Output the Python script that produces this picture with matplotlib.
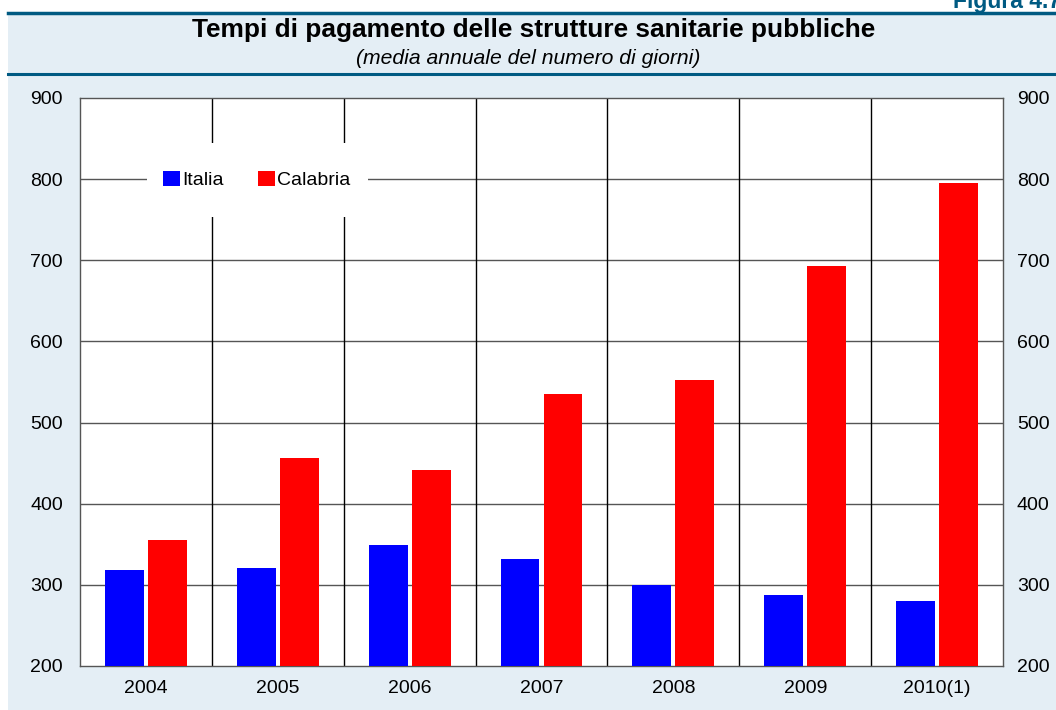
import matplotlib
matplotlib.use("Agg")
import matplotlib.pyplot as plt
from matplotlib.patches import Rectangle
from matplotlib.lines import Line2D
import numpy as np

years = ["2004", "2005", "2006", "2007", "2008", "2009", "2010(1)"]
italia = [318, 321, 349, 332, 300, 287, 280]
calabria = [355, 456, 441, 535, 552, 693, 795]
yticks = [200, 300, 400, 500, 600, 700, 800, 900]

W, H = 1056, 710
plt.rcParams["font.family"] = ["Liberation Sans", "DejaVu Sans"]
fig = plt.figure(figsize=(W / 100, H / 100), dpi=100, facecolor="white")

bg = "#E4EEF5"
band = "#005A82"
# background panel
fig.patches.append(Rectangle((8 / W, 0), 1 - 8 / W, 1 - 13 / H, transform=fig.transFigure,
                             facecolor=bg, edgecolor="none", zorder=-5))
fig.text(953 / W, 1 - 8 / H, "Figura 4.7", ha="left", va="baseline", fontsize=16.5,
         fontweight="bold", color=band, zorder=1)
fig.add_artist(Line2D([8 / W, 1], [1 - 12.5 / H] * 2, color=band, lw=2.5,
                      transform=fig.transFigure, zorder=3))
fig.add_artist(Line2D([8 / W, 1], [1 - 74 / H] * 2, color=band, lw=2.2,
                      transform=fig.transFigure, zorder=3))

fig.text(534 / W, 1 - 30 / H, "Tempi di pagamento delle strutture sanitarie pubbliche",
         ha="center", va="center", fontsize=18.9, fontweight="bold", color="black")
fig.text(528 / W, 1 - 59 / H, "(media annuale del numero di giorni)",
         ha="center", va="center", fontsize=15.2, style="italic", color="black")

ax = fig.add_axes([80 / W, 1 - 666 / H, (1003 - 80) / W, (666 - 98) / H])
ax.set_zorder(2)
ax.set_facecolor("white")
x = np.arange(len(years))
off, bw = 0.163, 0.295
ax.bar(x - off, italia, bw, color="#0000FF", zorder=3, label="Italia")
ax.bar(x + off, calabria, bw, color="#FF0000", zorder=3, label="Calabria")

ax.set_ylim(200, 900)
ax.set_xlim(-0.5, len(years) - 0.5)
ax.set_yticks(yticks)
ax.set_xticks(x)
ax.set_xticklabels(years)
ax.tick_params(axis="both", length=0, labelsize=14, colors="black")
ax.tick_params(axis="y", pad=12.2)
ax.tick_params(axis="x", pad=10)

ax2 = ax.twinx()
ax2.set_ylim(200, 900)
ax2.set_yticks(yticks)
ax2.tick_params(axis="y", length=0, labelsize=14, colors="black", pad=10)
ax2.set_zorder(1)
for s in ax2.spines.values():
    s.set_visible(False)

for yv in yticks[1:-1]:
    ax.axhline(yv, color="#555555", lw=1, zorder=1)
for xv in np.arange(0.5, len(years) - 0.5, 1):
    ax.axvline(xv, color="black", lw=1, zorder=1)
for s in ax.spines.values():
    s.set_color("#555555")
    s.set_linewidth(1)

# white legend panel
ax.add_patch(Rectangle((0.008, 753.4), 1.676, 91.2, facecolor="white",
                       edgecolor="none", zorder=2))
leg = ax.legend(loc="center left", bbox_to_anchor=((163 - 80) / 923, (666 - 180) / 568),
                ncol=2, frameon=False, fontsize=14, handlelength=0.85, handleheight=0.85,
                handletextpad=0.15, columnspacing=1.75, borderpad=0, borderaxespad=0)
leg.set_zorder(5)

fig.savefig("out.png", dpi=100, facecolor="white")
